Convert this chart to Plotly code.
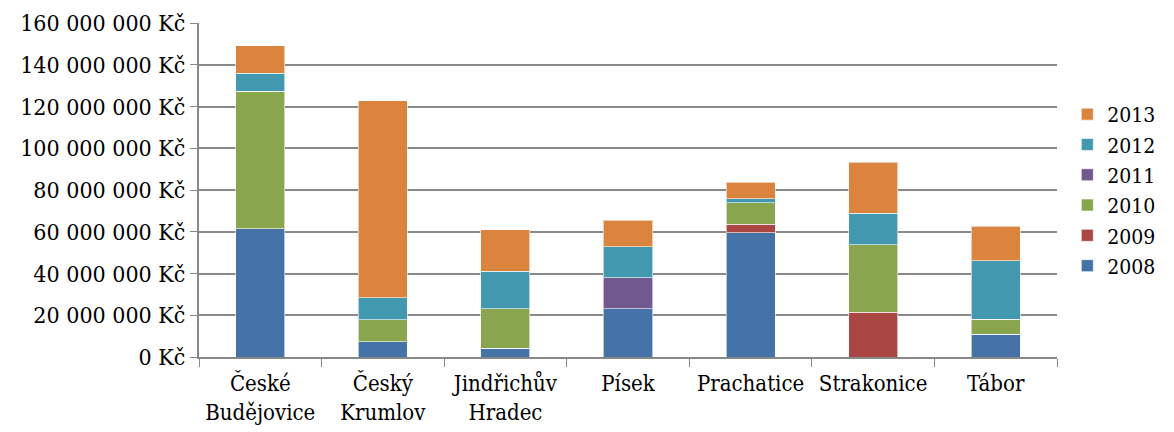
import plotly.graph_objects as go

categories = ["České<br>Budějovice", "Český<br>Krumlov", "Jindřichův<br>Hradec", "Písek",
              "Prachatice", "Strakonice", "Tábor"]
years = ["2008", "2009", "2010", "2011", "2012", "2013"]
v2008 = [61.4, 7.2, 4.1, 23.0, 59.6, 0.0, 10.8]
v2009 = [0.0, 0.0, 0.0, 0.0, 4.0, 21.4, 0.0]
v2010 = [66.0, 10.7, 18.9, 0.0, 10.4, 32.3, 7.4]
v2011 = [0.0, 0.0, 0.0, 15.0, 0.0, 0.0, 0.0]
v2012 = [8.6, 10.4, 18.0, 14.8, 1.8, 15.2, 27.8]
v2013 = [13.0, 94.5, 20.0, 12.7, 7.9, 24.4, 16.6]
series = [v2008, v2009, v2010, v2011, v2012, v2013]
colors = ["#4573A7", "#AA4644", "#89A54E", "#71588F", "#4198AF", "#DB843D"]

tick_vals = [0, 20e6, 40e6, 60e6, 80e6, 100e6, 120e6, 140e6, 160e6]
tick_text = ["0 Kč", "20 000 000 Kč", "40 000 000 Kč", "60 000 000 Kč", "80 000 000 Kč",
             "100 000 000 Kč", "120 000 000 Kč", "140 000 000 Kč", "160 000 000 Kč"]

fig = go.Figure()
for y, vals, c in zip(years, series, colors):
    fig.add_trace(go.Bar(
        x=categories, y=[v * 1e6 for v in vals], name=y, legendgroup=y,
        marker=dict(color=c, line=dict(color="rgba(255,255,255,0.6)", width=1)),
    ))

font = dict(family="DejaVu Serif Condensed, DejaVu Serif", size=23, color="black")
xfont = dict(family="DejaVu Serif Condensed, DejaVu Serif", size=22, color="black")
lfont = dict(family="DejaVu Serif Condensed, DejaVu Serif", size=21, color="black")
fig.update_layout(
    barmode="stack", bargap=0.6,
    width=1174, height=432,
    margin=dict(l=191, r=125, t=15, b=83, autoexpand=False),
    paper_bgcolor="white", plot_bgcolor="white",
    font=font,
    showlegend=True,
    legend=dict(traceorder="reversed", x=1.012, y=0.5, yanchor="middle", xanchor="left",
                tracegroupgap=17, font=lfont, itemwidth=30),
    xaxis=dict(tickson="boundaries", ticks="outside", ticklen=8, tickcolor="#888",
               showline=True, linecolor="#888", linewidth=2, showgrid=False,
               tickfont=xfont, tickangle=0, automargin=False, ticklabelstandoff=6),
    yaxis=dict(range=[0, 160e6], tickvals=tick_vals, ticktext=tick_text,
               ticks="outside", ticklen=7, tickcolor="#888",
               showline=True, linecolor="#888", linewidth=2,
               showgrid=True, gridcolor="#8a8a8a", gridwidth=1.5,
               tickfont=font, zeroline=False, automargin=False),
)
fig.write_html("out.html")
